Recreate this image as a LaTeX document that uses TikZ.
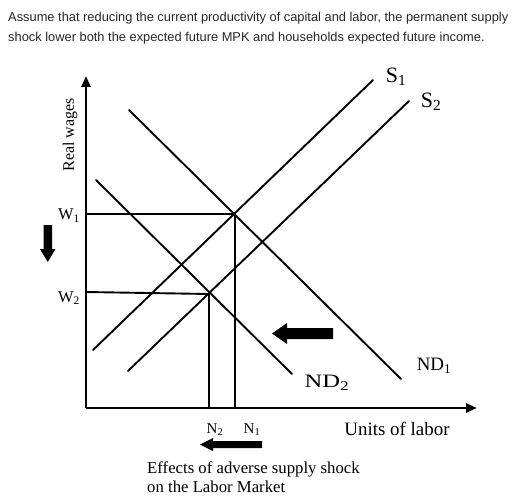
\documentclass[tikz,border=0pt]{standalone}
\usepackage{fontspec}
\setmainfont{Liberation Serif}
\newfontfamily\topfont{Liberation Sans}
\usetikzlibrary{arrows.meta}
\newcommand{\fs}[1]{\fontsize{#1}{#1}\selectfont}
\begin{document}
\begin{tikzpicture}[x=1bp,y=-1bp,
  curve/.style={line width=1.9bp, line cap=round},
  axisline/.style={line width=2.4bp},
  guide/.style={line width=1.9bp},
  blockarrow/.style={fill=black, draw=none},
  lbl/.style={inner sep=0pt, font=\fs{16}},
  toptext/.style={inner sep=0pt, anchor=base west, font=\topfont\fs{12.9}, text=black!85}]
\useasboundingbox (0,0) rectangle (529,501);

% top text
\node[toptext] (t1) at (8,22) {Assume that reducing the current productivity of capital and labor, the permanent supply};
\node[toptext] (t2) at (8,42) {shock lower both the expected future MPK and households expected future income.};

% axes
\coordinate (O) at (86,408);
\coordinate (ytop) at (86,76);
\coordinate (xend) at (477,408);
\draw[axisline,-{Triangle[length=11bp,width=9bp]}] (O) -- (ytop);
\draw[axisline,-{Triangle[length=11bp,width=9bp]}] (O) -- (xend);

% curves
\coordinate (s1a) at (93,350);  \coordinate (s1b) at (373,80);
\coordinate (s2a) at (128,371); \coordinate (s2b) at (409,101);
\coordinate (d1a) at (129,110); \coordinate (d1b) at (401,379);
\coordinate (d2a) at (96,180);  \coordinate (d2b) at (292,374);
\draw[curve] (s1a) -- (s1b);
\draw[curve] (s2a) -- (s2b);
\draw[curve] (d1a) -- (d1b);
\draw[curve] (d2a) -- (d2b);

% equilibria
\coordinate (E1) at (235,214);
\coordinate (E2) at (209,294);
\coordinate (w1) at (86,214);
\coordinate (w2) at (86,292);
\draw[guide] (w1) -- (E1) -- (E1 |- O);
\draw[guide] (w2) -- (E2) -- (E2 |- O);

% labels
\node[lbl, rotate=90] (rw) at (70,135) {Real wages};
\node[lbl, anchor=base east, font=\fs{16.5}] (W1) at (80,219.5) {W\textsubscript{1}};
\node[lbl, anchor=base east, font=\fs{16.5}] (W2) at (80,302) {W\textsubscript{2}};
\node[lbl, font=\fs{22}] (S1) at (396,77) {S\textsubscript{1}};
\node[lbl, font=\fs{22}] (S2) at (431,102) {S\textsubscript{2}};
\node[lbl, font=\fs{19}] (ND1) at (434,366) {ND\textsubscript{1}};
\node[lbl, font=\fs{19}, xscale=1.3] (ND2) at (327,383) {ND\textsubscript{2}};
\node[lbl, anchor=base, font=\fs{15}] (N2) at (215,433) {N\textsubscript{2}};
\node[lbl, anchor=base, font=\fs{15}] (N1) at (252,433) {N\textsubscript{1}};
\node[lbl, font=\fs{19}] (units) at (397,429) {Units of labor};
\node[lbl, anchor=base west, font=\fs{16.8}] (cap1) at (147,473) {Effects of adverse supply shock};
\node[lbl, anchor=base west, font=\fs{16.8}] (cap2) at (147,492) {on the Labor Market};

% block arrows
\fill[blockarrow] (43.5,225) -- (52,225) -- (52,249) -- (55.5,249) -- (47.75,262) -- (40,249) -- (43.5,249) -- cycle;
\fill[blockarrow] (333,328) -- (287,328) -- (287,323) -- (272,333.5) -- (287,344) -- (287,339) -- (333,339) -- cycle;
\fill[blockarrow] (262,441) -- (213,441) -- (213,438) -- (200,444.5) -- (213,451) -- (213,448) -- (262,448) -- cycle;
\end{tikzpicture}
\end{document}
